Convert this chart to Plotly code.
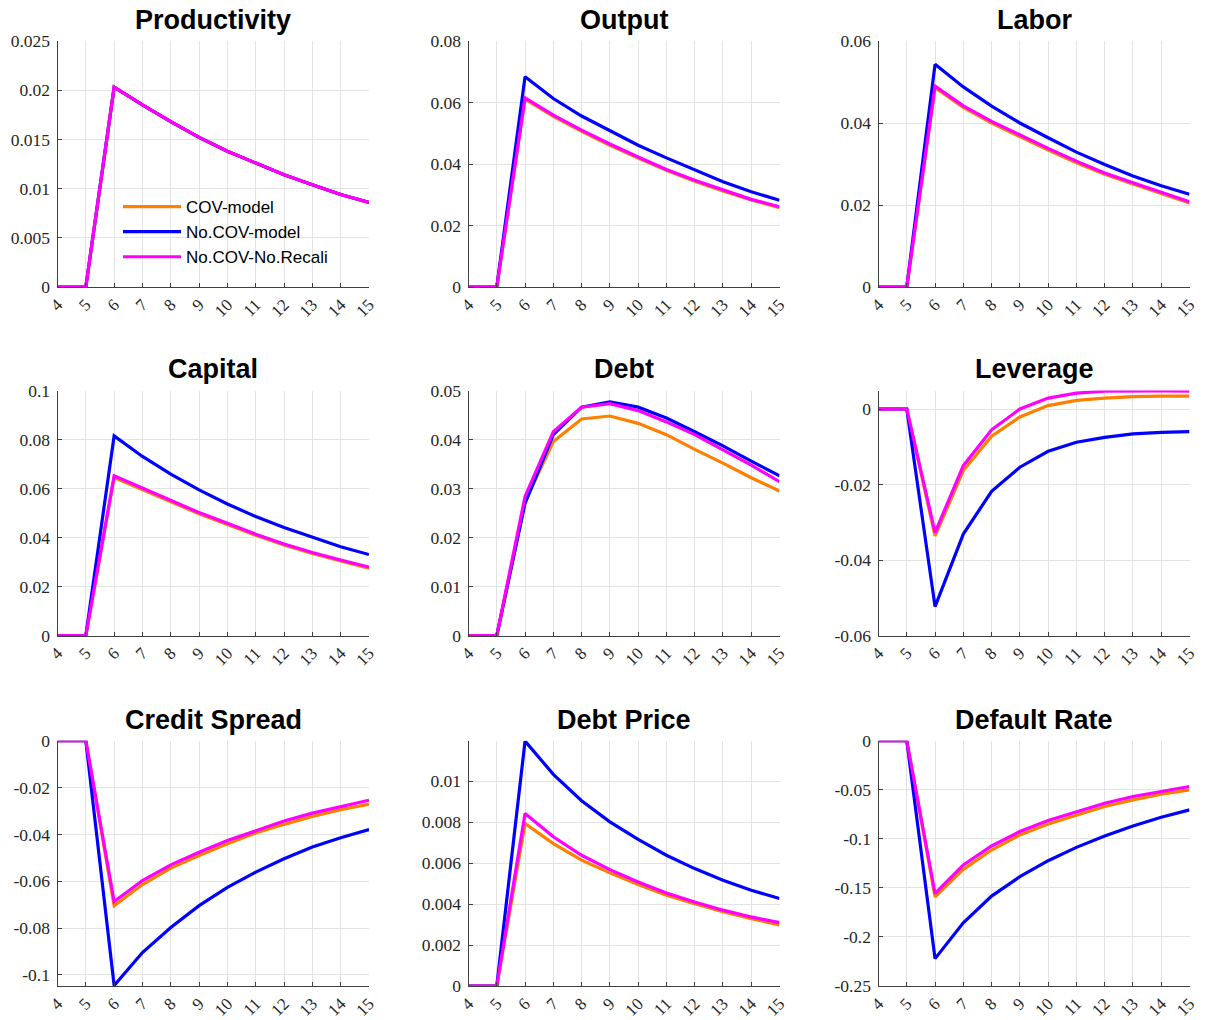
import plotly.graph_objects as go

periods = [4, 5, 6, 7, 8, 9, 10, 11, 12, 13, 14, 15]
series_names = ["COV-model", "No.COV-model", "No.COV-No.Recali"]
series_colors = ["#FF8000", "#0000FF", "#FF00FF"]

titles = ["Productivity", "Output", "Labor", "Capital", "Debt", "Leverage",
          "Credit Spread", "Debt Price", "Default Rate"]

productivity_cov = [0, 0, 0.0203, 0.0185, 0.0168, 0.0152, 0.0138, 0.0126, 0.0114, 0.0104, 0.0094, 0.0086]
productivity_nocov = [0, 0, 0.0203, 0.0185, 0.0168, 0.0152, 0.0138, 0.0126, 0.0114, 0.0104, 0.0094, 0.0086]
productivity_norecal = [0, 0, 0.0203, 0.0185, 0.0168, 0.0152, 0.0138, 0.0126, 0.0114, 0.0104, 0.0094, 0.0086]

output_cov = [0, 0, 0.0611, 0.0555, 0.0506, 0.0461, 0.0419, 0.0380, 0.0344, 0.0312, 0.0283, 0.0258]
output_nocov = [0, 0, 0.0684, 0.0613, 0.0556, 0.0508, 0.0461, 0.0420, 0.0380, 0.0342, 0.0310, 0.0282]
output_norecal = [0, 0, 0.0615, 0.0559, 0.0510, 0.0465, 0.0423, 0.0382, 0.0347, 0.0315, 0.0285, 0.0261]

labor_cov = [0, 0, 0.0486, 0.0438, 0.0400, 0.0366, 0.0334, 0.0303, 0.0275, 0.0251, 0.0227, 0.0205]
labor_nocov = [0, 0, 0.0543, 0.0488, 0.0441, 0.0400, 0.0364, 0.0329, 0.0299, 0.0271, 0.0247, 0.0226]
labor_norecal = [0, 0, 0.0490, 0.0442, 0.0404, 0.0370, 0.0338, 0.0307, 0.0278, 0.0254, 0.0230, 0.0208]

capital_cov = [0, 0, 0.0645, 0.0595, 0.0545, 0.0497, 0.0454, 0.0410, 0.0370, 0.0335, 0.0305, 0.0275]
capital_nocov = [0, 0, 0.0815, 0.0731, 0.0659, 0.0595, 0.0537, 0.0486, 0.0441, 0.0401, 0.0363, 0.0331]
capital_norecal = [0, 0, 0.0652, 0.0601, 0.0551, 0.0502, 0.0459, 0.0414, 0.0374, 0.0339, 0.0309, 0.0280]

debt_cov = [0, 0, 0.0273, 0.0396, 0.0442, 0.0448, 0.0433, 0.0410, 0.0380, 0.0352, 0.0322, 0.0295]
debt_nocov = [0, 0, 0.0270, 0.0410, 0.0466, 0.0477, 0.0466, 0.0444, 0.0416, 0.0387, 0.0356, 0.0326]
debt_norecal = [0, 0, 0.0284, 0.0416, 0.0466, 0.0473, 0.0459, 0.0436, 0.0410, 0.0379, 0.0348, 0.0314]

leverage_cov = [0, 0, -0.0336, -0.0163, -0.0072, -0.0021, 0.0009, 0.0023, 0.0029, 0.0033, 0.0034, 0.0034]
leverage_nocov = [0, 0, -0.0523, -0.0331, -0.0218, -0.0154, -0.0112, -0.0088, -0.0075, -0.0066, -0.0062, -0.0060]
leverage_norecal = [0, 0, -0.0327, -0.0150, -0.0055, 0.0000, 0.0029, 0.0042, 0.0047, 0.0048, 0.0048, 0.0047]

spread_cov = [0, 0, -0.0704, -0.0614, -0.0544, -0.0490, -0.0440, -0.0394, -0.0357, -0.0323, -0.0294, -0.0271]
spread_nocov = [0, 0, -0.1045, -0.0904, -0.0797, -0.0704, -0.0626, -0.0561, -0.0504, -0.0454, -0.0414, -0.0379]
spread_norecal = [0, 0, -0.0686, -0.0597, -0.0530, -0.0476, -0.0426, -0.0383, -0.0343, -0.0309, -0.0280, -0.0254]

price_cov = [0, 0, 0.00793, 0.00695, 0.00614, 0.00552, 0.00495, 0.00443, 0.00402, 0.00362, 0.00329, 0.00298]
price_nocov = [0, 0, 0.01195, 0.01033, 0.00904, 0.00801, 0.00715, 0.00638, 0.00573, 0.00516, 0.00467, 0.00427]
price_norecal = [0, 0, 0.00842, 0.00728, 0.00638, 0.00568, 0.00508, 0.00454, 0.00410, 0.00370, 0.00337, 0.00309]

default_cov = [0, 0, -0.1591, -0.1311, -0.1114, -0.0960, -0.0848, -0.0756, -0.0671, -0.0603, -0.0545, -0.0501]
default_nocov = [0, 0, -0.2221, -0.1856, -0.1584, -0.1386, -0.1223, -0.1087, -0.0971, -0.0869, -0.0780, -0.0705]
default_norecal = [0, 0, -0.1557, -0.1267, -0.1073, -0.0926, -0.0814, -0.0722, -0.0637, -0.0569, -0.0518, -0.0467]

panel_data = [
    (productivity_cov, productivity_nocov, productivity_norecal),
    (output_cov, output_nocov, output_norecal),
    (labor_cov, labor_nocov, labor_norecal),
    (capital_cov, capital_nocov, capital_norecal),
    (debt_cov, debt_nocov, debt_norecal),
    (leverage_cov, leverage_nocov, leverage_norecal),
    (spread_cov, spread_nocov, spread_norecal),
    (price_cov, price_nocov, price_norecal),
    (default_cov, default_nocov, default_norecal),
]

y_ranges = [[0, 0.025], [0, 0.08], [0, 0.06], [0, 0.1], [0, 0.05],
            [-0.06, 0.0049], [-0.1047, 0], [0, 0.01197], [-0.25, 0]]
y_ticks = [
    [0, 0.005, 0.01, 0.015, 0.02, 0.025],
    [0, 0.02, 0.04, 0.06, 0.08],
    [0, 0.02, 0.04, 0.06],
    [0, 0.02, 0.04, 0.06, 0.08, 0.1],
    [0, 0.01, 0.02, 0.03, 0.04, 0.05],
    [-0.06, -0.04, -0.02, 0],
    [-0.1, -0.08, -0.06, -0.04, -0.02, 0],
    [0, 0.002, 0.004, 0.006, 0.008, 0.01],
    [-0.25, -0.2, -0.15, -0.1, -0.05, 0],
]

W, H = 1206, 1020
col_px = [(57.5, 369.0), (468.5, 779.5), (878.5, 1189.5)]
row_px = [(41.0, 287.0), (390.5, 635.7), (740.7, 986.0)]
title_py = [20, 369, 720]

def fmt(v):
    if v == 0:
        return "0"
    return ("%.3f" % v).rstrip("0").rstrip(".")

tick_font = dict(family="Liberation Serif", size=17.5, color="#262626")
xtick_font = dict(family="Liberation Serif", size=17, color="#262626")

fig = go.Figure()
annotations = []
for i in range(9):
    r, c = divmod(i, 3)
    ax = "" if i == 0 else str(i + 1)
    xa, ya = "x" + ax, "y" + ax
    for k in range(3):
        fig.add_trace(go.Scatter(
            x=periods, y=panel_data[i][k], mode="lines",
            line=dict(color=series_colors[k], width=3.2),
            name=series_names[k], showlegend=(i == 0),
            xaxis=xa, yaxis=ya, hoverinfo="skip"))
    x0, x1 = col_px[c]
    y0, y1 = row_px[r]
    common = dict(showgrid=True, gridcolor="#E3E3E3", gridwidth=1,
                  showline=True, linecolor="#404040", linewidth=1,
                  ticks="inside", ticklen=4, tickcolor="#404040",
                  zeroline=False, automargin=False,
                  ticklabeloverflow="allow")
    fig.layout["xaxis" + ax] = dict(
        common, domain=[x0 / W, x1 / W], range=[4, 15],
        tickvals=periods, ticktext=[str(p) for p in periods],
        tickangle=-45, anchor=ya, tickfont=xtick_font, ticklabelstandoff=0)
    fig.layout["yaxis" + ax] = dict(
        common, domain=[1 - y1 / H, 1 - y0 / H], range=y_ranges[i],
        tickvals=y_ticks[i], ticktext=[fmt(v) for v in y_ticks[i]],
        anchor=xa, ticklabelstandoff=3, tickfont=tick_font)
    annotations.append(dict(
        text="<b>%s</b>" % titles[i], x=(x0 + x1) / 2 / W, y=1 - title_py[r] / H,
        xref="paper", yref="paper", showarrow=False, xanchor="center", yanchor="middle",
        font=dict(family="Liberation Sans", size=27, color="black")))

fig.update_layout(
    width=W, height=H, margin=dict(l=0, r=0, t=0, b=0),
    paper_bgcolor="white", plot_bgcolor="white",
    annotations=annotations,
    hovermode=False,
    legend=dict(x=118 / W, y=1 - 189 / H, xanchor="left", yanchor="top",
                bgcolor="rgba(0,0,0,0)", borderwidth=0, itemwidth=58,
                tracegroupgap=4,
                font=dict(family="Liberation Sans", size=17, color="black")),
)

fig.write_html(
    "out.html",
    config={"displayModeBar": False},
    post_script="document.body.style.margin='0';document.body.style.overflow='hidden';",
)
